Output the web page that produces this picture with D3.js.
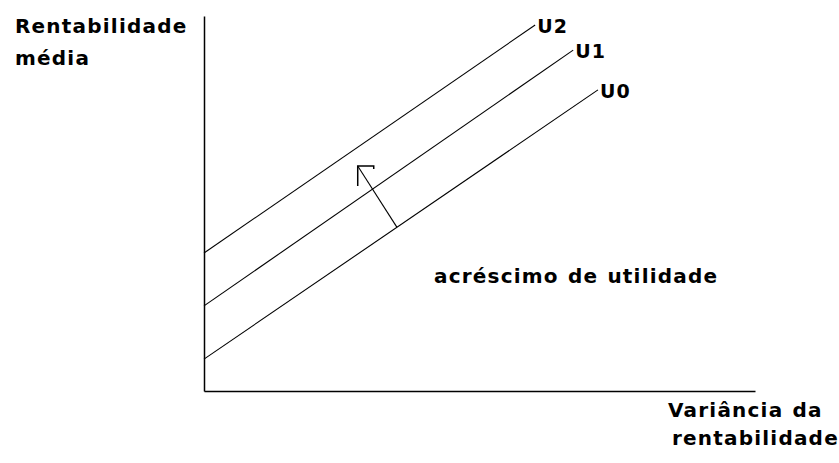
<!DOCTYPE html>
<html>
<head>
<meta charset="utf-8">
<script src="https://cdn.jsdelivr.net/npm/d3@7"></script>
<style>
  body { margin: 0; background: #fff; }
  text { font-family: "DejaVu Sans", sans-serif; font-weight: bold; fill: #000; letter-spacing: 1.2px; word-spacing: 1px; }
</style>
</head>
<body>
<div id="chart"></div>
<script>
// indifference curves (variance, mean return), arbitrary units
const curveNames = ["U0", "U1", "U2"];
const curveStart = [[0, 8.5], [0, 22.7], [0, 36.8]];
const curveEnd = [[71.5, 80.3], [67.0, 90.9], [60.1, 97.6]];
// arrow showing the utility increase
const arrowFrom = [35.0, 43.7];
const arrowTo = [27.9, 60.0];

const width = 839, height = 463;
const svg = d3.select("#chart").append("svg")
    .attr("width", width)
    .attr("height", height);

const x = d3.scaleLinear().domain([0, 100]).range([204, 755]);
const y = d3.scaleLinear().domain([0, 100]).range([391, 16]);

// axes: bare lines, no ticks
svg.append("g")
    .attr("transform", `translate(${x(0)},0)`)
    .call(d3.axisLeft(y).ticks(0).tickSizeOuter(0))
    .select(".domain").attr("stroke", "#000").attr("stroke-width", 1.5);

svg.append("g")
    .attr("transform", `translate(0,${y(0)})`)
    .call(d3.axisBottom(x).ticks(0).tickSizeOuter(0))
    .select(".domain").attr("stroke", "#000").attr("stroke-width", 1.5);

// curves
curveNames.forEach((name, i) => {
    const a = curveStart[i], b = curveEnd[i];
    svg.append("line")
        .attr("x1", x(a[0])).attr("y1", y(a[1]))
        .attr("x2", x(b[0])).attr("y2", y(b[1]))
        .attr("stroke", "#000")
        .attr("stroke-width", 1.1);
    svg.append("text")
        .attr("x", x(b[0]) + 2)
        .attr("y", y(b[1]) + 8)
        .attr("font-size", 19)
        .text(name);
});

// arrow
const tx = x(arrowTo[0]), ty = y(arrowTo[1]);
svg.append("line")
    .attr("x1", x(arrowFrom[0])).attr("y1", y(arrowFrom[1]))
    .attr("x2", tx).attr("y2", ty)
    .attr("stroke", "#000").attr("stroke-width", 1.1);
svg.append("path")
    .attr("d", `M${tx + 16},${ty + 3} L${tx + 16},${ty} L${tx},${ty} L${tx},${ty + 20}`)
    .attr("fill", "none")
    .attr("stroke", "#000").attr("stroke-width", 1.5);

// labels
svg.append("text").attr("x", 15).attr("y", 33).attr("font-size", 20).text("Rentabilidade");
svg.append("text").attr("x", 15).attr("y", 65).attr("font-size", 20).text("média");
svg.append("text").attr("x", 434).attr("y", 283).attr("font-size", 20).text("acréscimo de utilidade");
svg.append("text").attr("x", 668).attr("y", 417).attr("font-size", 20).text("Variância da");
svg.append("text").attr("x", 672).attr("y", 445).attr("font-size", 20).text("rentabilidade");
</script>
</body>
</html>
